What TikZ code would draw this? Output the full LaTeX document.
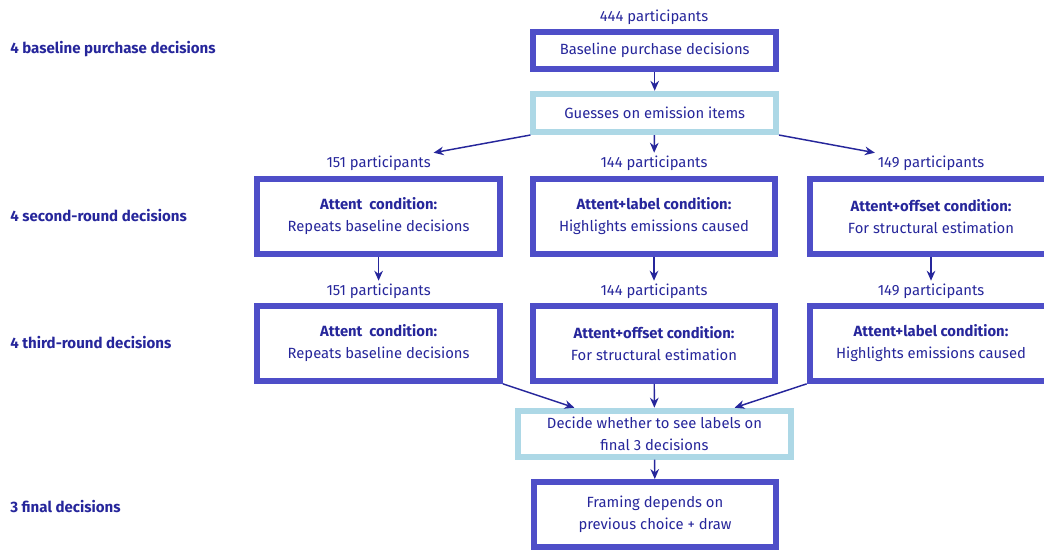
\documentclass[tikz,border=0pt]{standalone}
\usepackage{fontspec}
\setmainfont{Fira Sans}
\usetikzlibrary{arrows.meta}
\definecolor{frameblue}{RGB}{78,78,200}
\definecolor{paleblue}{RGB}{173,216,230}
\definecolor{inkblue}{RGB}{38,38,155}
\tikzset{
    every node/.style={text=inkblue, font=\fontsize{11.1}{16.5}\selectfont},
    box/.style={draw=frameblue, line width=4.5pt, fill=white, align=center,
        minimum width=182pt, inner sep=0pt},
    guess/.style={box, draw=paleblue},
    count/.style={inner sep=2pt},
    side/.style={anchor=west, inner sep=0pt, font=\fontsize{11.3}{13}\selectfont\bfseries},
    flow/.style={-{Stealth[length=7.5pt,width=6.5pt]}, draw=inkblue, line width=1.1pt}
}

\begin{document}
\begin{tikzpicture}[x=0.75pt, y=-0.75pt]
\useasboundingbox (0,0) rectangle (1044,550);

\node[side] at (10,49) (s0) {4 baseline purchase decisions};
\node[side] at (10,216) (s1) {4 second-round decisions};
\node[side] at (10,343) (s2) {4 third-round decisions};
\node[side] at (10,507) (s3) {3 final decisions};

\node[count] at (654,17) (c00) {444 participants};
\node[box, minimum height=27.4pt] at (654.7,50.7) (b00) {Baseline purchase decisions};
\node[guess, minimum height=28.7pt] at (654.7,112.9) (g00) {Guesses on emission items};

\node[count] at (378.6,163) (c10) {151 participants};
\node[count] at (654,163) (c11) {144 participants};
\node[count] at (931,163) (c12) {149 participants};

\node[box, minimum height=56pt] at (378.6,216.4) (b10) {\textbf{Attent\ \ condition:}\\Repeats baseline decisions};
\node[box, minimum height=56pt] at (654,216.4) (b11) {\textbf{Attent+label condition:}\\Highlights emissions caused};
\node[box, minimum height=56pt] at (931,216.4) (b12) {\textbf{Attent+offset condition:}\\For structural estimation};

\node[count] at (378.6,291) (c20) {151 participants};
\node[count] at (654,291) (c21) {144 participants};
\node[count] at (931,291) (c22) {149 participants};

\node[box, minimum height=56pt] at (378.6,343.5) (b20) {\textbf{Attent\ \ condition:}\\Repeats baseline decisions};
\node[box, minimum height=56pt] at (654,343.5) (b21) {\textbf{Attent+offset condition:}\\For structural estimation};
\node[box, minimum height=56pt] at (931,343.5) (b22) {\textbf{Attent+label condition:}\\Highlights emissions caused};

\node[guess, minimum width=204.3pt, minimum height=34.5pt] at (654.5,433.7) (g30) {Decide whether to see labels on\\final 3 decisions};
\node[box, minimum height=49pt] at (655,514.7) (b40) {Framing depends on\\previous choice + draw};

\draw[flow] (b00) -- (g00);

\draw[flow] (g00.south west) -- (c10.north east);
\draw[flow] (g00) -- (c11);
\draw[flow] (g00.south east) -- (c12.north west);

\draw[flow] (b10) -- (c20);
\draw[flow] (b11) -- (c21);
\draw[flow] (b12) -- (c22);

\draw[flow] (b20.south east) -- (g30.162);
\draw[flow] (b21) -- (g30);
\draw[flow] (b22.south west) -- (g30.18);

\draw[flow] (g30) -- (b40);
\end{tikzpicture}
\end{document}
